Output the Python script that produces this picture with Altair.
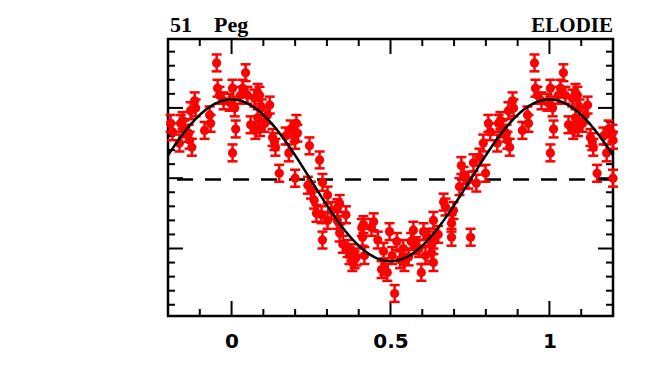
import altair as alt
import numpy as np
import pandas as pd

# ---- data (orbital phase, radial velocity m/s) ----
PHASE = [0.003, 0.003, 0.010, 0.013, 0.028, 0.035, 0.044, 0.050, 0.060, 0.072,
         0.075, 0.082, 0.082, 0.088, 0.090, 0.095, 0.104, 0.113, 0.120, 0.129,
         0.135, 0.138, 0.150, 0.170, 0.180, 0.186, 0.198, 0.200, 0.200, 0.204,
         0.207, 0.240, 0.245, 0.250, 0.260, 0.267, 0.277, 0.283, 0.286, 0.286,
         0.302, 0.302, 0.314, 0.333, 0.333, 0.340, 0.340, 0.350, 0.360, 0.365,
         0.371, 0.377, 0.380, 0.387, 0.393, 0.410, 0.412, 0.415, 0.418, 0.440,
         0.447, 0.460, 0.472, 0.478, 0.481, 0.490, 0.497, 0.505, 0.513, 0.520,
         0.530, 0.540, 0.544, 0.557, 0.565, 0.572, 0.580, 0.590, 0.597, 0.604,
         0.610, 0.620, 0.629, 0.629, 0.635, 0.635, 0.635, 0.650, 0.667, 0.673,
         0.692, 0.692, 0.698, 0.717, 0.723, 0.730, 0.745, 0.752, 0.761, 0.770,
         0.780, 0.792, 0.799, 0.808, 0.814, 0.836, 0.840, 0.846, 0.852, 0.865,
         0.868, 0.871, 0.875, 0.884, 0.887, 0.915, 0.931, 0.934, 0.953, 0.956,
         0.962, 0.975, 0.994]
RV = [64, 18, 50, 35, 59, 64, 75, 59, 38, 57,
      34, 43, 61, 59, 36, 50, 39, 45, 52, 29,
      26, 22, 3.5, 30, 18, 35, 32, 27, 0, 39,
      32, -5, 23, -8.5, -15.6, -25, 13, -26, -3, -44,
      -12, -30, -23, -21, -30, -39, -18, -47, -26, -50,
      -55, -53, -60, -58, -56, -35, -42, -33, -55, -35,
      -31, -44, -65, -52, -63, -67, -38, -55, -82, -45,
      -58, -50, -60, -56, -45, -37, -48, -50, -67, -38,
      -55, -42, -47.5, -53, -30, -44, -60, -40, -17, -20.5,
      -32, -42, -23, -6, 9, 2, -1.4, -42, 11, -3.5,
      15, 25, 3.5, 39, 33, 25, 39, 41, 35, 32,
      27, 48, 22, 55, 50, 34, 45, 39, 82, 64,
      59, 55, 54]
ERR = 6.0          # error bar half-length, m/s
K = 57.5           # fitted semi-amplitude, m/s
V0 = -1.5          # fitted systemic offset, m/s
ZERO_LINE = -1.0   # dashed reference line, m/s

X_DOMAIN = [-0.2, 1.2]
Y_DOMAIN = [-98, 99]
X_LABELS = [0, 0.5, 1]
X_MAJOR = [0, 0.5, 1]
X_MINOR = [-0.1, 0.1, 0.2, 0.3, 0.4, 0.6, 0.7, 0.8, 0.9, 1.1]
Y_MAJOR = [-50, 0, 50]
Y_MINOR = [-90, -80, -70, -60, -40, -30, -20, -10, 10, 20, 30, 40, 60, 70, 80, 90]
TITLE_LEFT = "51\u00a0\u00a0\u00a0\u00a0Peg"
TITLE_RIGHT = "ELODIE"

# ---- layout / style ----
W, H = 445, 277
MAJ, MIN = 15, 7
RED = "#ff0000"

rows = []
for p, v in zip(PHASE, RV):
    for s in (-1, 0, 1):
        q = p + s
        if X_DOMAIN[0] <= q <= X_DOMAIN[1]:
            rows.append({"phase": q, "rv": v, "lo": v - ERR, "hi": v + ERR})
pts = pd.DataFrame(rows)

phi = np.linspace(X_DOMAIN[0], X_DOMAIN[1], 500)
curve = pd.DataFrame({"phase": phi, "rv": V0 + K * np.cos(2 * np.pi * phi)})

xaxis = alt.Axis(values=X_LABELS, format="~g", ticks=False, domain=False, grid=False,
                 labelFont="DejaVu Sans", labelFontWeight="bold", labelFontSize=20,
                 labelColor="black", labelPadding=15, title=None)
xs = alt.Scale(domain=X_DOMAIN, nice=False, zero=False)
ys = alt.Scale(domain=Y_DOMAIN, nice=False, zero=False)


def X(f):
    return alt.X(f, type="quantitative", scale=xs, axis=xaxis)


def Y(f):
    return alt.Y(f, type="quantitative", scale=ys, axis=None)


def xticks(vals, length):
    d = pd.DataFrame({"t": vals})
    top = alt.Chart(d).mark_rule(color="black", strokeWidth=2).encode(
        x=X("t"), y=alt.value(0), y2=alt.value(length))
    bot = alt.Chart(d).mark_rule(color="black", strokeWidth=2).encode(
        x=X("t"), y=alt.value(H), y2=alt.value(H - length))
    return [top, bot]


def yticks(vals, length):
    d = pd.DataFrame({"t": vals})
    left = alt.Chart(d).mark_rule(color="black", strokeWidth=2).encode(
        y=Y("t"), x=alt.value(0), x2=alt.value(length))
    right = alt.Chart(d).mark_rule(color="black", strokeWidth=2).encode(
        y=Y("t"), x=alt.value(W), x2=alt.value(W - length))
    return [left, right]


ticks = xticks(X_MAJOR, MAJ) + xticks(X_MINOR, MIN) + yticks(Y_MAJOR, MAJ) + yticks(Y_MINOR, MIN)

dash = alt.Chart(pd.DataFrame({"v": [ZERO_LINE]})).mark_rule(
    color="black", strokeWidth=2.5, strokeDash=[16, 12]).encode(y=Y("v"))

base = alt.Chart(pts)
bars = base.mark_rule(color=RED, strokeWidth=2.5, opacity=1).encode(x=X("phase"), y=Y("lo"), y2="hi")
cap_lo = base.mark_tick(color=RED, thickness=2.5, size=10, orient="horizontal", opacity=1).encode(
    x=X("phase"), y=Y("lo"))
cap_hi = base.mark_tick(color=RED, thickness=2.5, size=10, orient="horizontal", opacity=1).encode(
    x=X("phase"), y=Y("hi"))
dots = base.mark_circle(color=RED, size=85, opacity=1).encode(x=X("phase"), y=Y("rv"))

line = alt.Chart(curve).mark_line(color="black", strokeWidth=2.5).encode(
    x=X("phase"), y=Y("rv"))

t_left = alt.Chart(pd.DataFrame({"t": [TITLE_LEFT]})).mark_text(
    font="Liberation Serif", fontWeight="bold", fontSize=22, align="left",
    baseline="alphabetic", color="black").encode(text="t:N", x=alt.value(2), y=alt.value(-7))
t_right = alt.Chart(pd.DataFrame({"t": [TITLE_RIGHT]})).mark_text(
    font="Liberation Serif", fontWeight="bold", fontSize=21, align="right",
    baseline="alphabetic", color="black").encode(text="t:N", x=alt.value(W), y=alt.value(-7))

chart = alt.layer(*ticks, dash, bars, cap_lo, cap_hi, dots, line, t_left, t_right).properties(
    width=W, height=H,
    padding={"left": 160, "top": 31, "right": 25, "bottom": 55},
    autosize=alt.AutoSizeParams(type="none"),
    background="white",
).configure_view(stroke="black", strokeWidth=2.5)

chart.save("out.html", embed_options={"renderer": "svg", "actions": False})
